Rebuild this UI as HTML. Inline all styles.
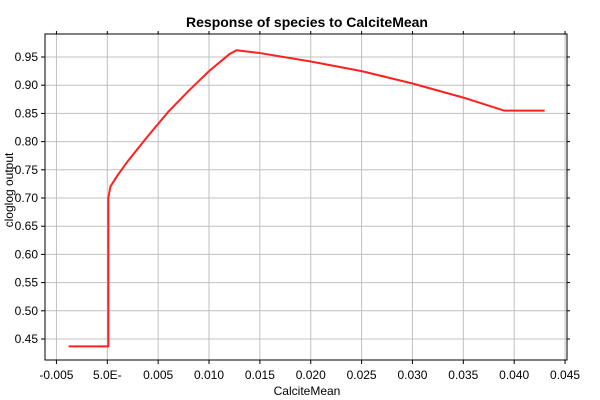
<!DOCTYPE html>
<html><head><meta charset="utf-8"><style>body{margin:0;background:#fff}svg{display:block;font-family:"Liberation Sans",sans-serif}</style></head>
<body>
<svg id="chart" width="600" height="400" xmlns="http://www.w3.org/2000/svg">
<rect width="600" height="400" fill="#fff"/>
<text x="307" y="27" text-anchor="middle" font-size="14" font-weight="bold">Response of species to CalciteMean</text>
<text x="307" y="395" text-anchor="middle" font-size="12">CalciteMean</text>
<text transform="translate(13,190) rotate(-90)" text-anchor="middle" font-size="12">cloglog output</text>
<g id="grid"></g><g id="axes"></g><g id="series"></g>
</svg>
<script>
const xTicks=[-0.005,0,0.005,0.010,0.015,0.020,0.025,0.030,0.035,0.040,0.045];
const xTickLabels=["-0.005","5.0E-","0.005","0.010","0.015","0.020","0.025","0.030","0.035","0.040","0.045"];
const yTicks=[0.45,0.50,0.55,0.60,0.65,0.70,0.75,0.80,0.85,0.90,0.95];
const yTickLabels=["0.45","0.50","0.55","0.60","0.65","0.70","0.75","0.80","0.85","0.90","0.95"];
const xs=[-0.0038,0.0001,0.0001,0.0003,0.001,0.002,0.004,0.006,0.008,0.010,0.012,0.0127,0.015,0.020,0.025,0.030,0.035,0.039,0.043];
const ys=[0.437,0.437,0.70,0.72,0.74,0.765,0.81,0.853,0.89,0.925,0.955,0.962,0.957,0.942,0.925,0.903,0.878,0.855,0.855];
const L=45,R=567,T=34,B=360;
const X=v=>107.3+(v/0.005)*50.86;
const Y=v=>339-((v-0.45)/0.05)*28.2;
const NS="http://www.w3.org/2000/svg";
function mk(p,t,a){const e=document.createElementNS(NS,t);for(const k in a)e.setAttribute(k,a[k]);p.appendChild(e);return e;}
const g=document.getElementById('grid'),ax=document.getElementById('axes'),s=document.getElementById('series');
xTicks.forEach((v,i)=>{const x=X(v);
 const l=mk(g,'line',{x1:x,x2:x,y1:T,y2:B,stroke:'#c0c0c0'});
 
 
 mk(ax,'line',{x1:x,x2:x,y1:B,y2:B+4,stroke:'#000'});
 mk(ax,'line',{x1:x,x2:x,y1:T,y2:T-3,stroke:'#000'});
 const t=mk(ax,'text',{x:x,y:B+19,'text-anchor':'middle','font-size':'12'});t.textContent=xTickLabels[i];
 
 });
yTicks.forEach((v,i)=>{const y=Y(v);
 const l=mk(g,'line',{x1:L,x2:R,y1:y,y2:y,stroke:'#c0c0c0'});
 
 
 mk(ax,'line',{x1:L-4,x2:L,y1:y,y2:y,stroke:'#000'});
 mk(ax,'line',{x1:R,x2:R+3,y1:y,y2:y,stroke:'#000'});
 const t=mk(ax,'text',{x:L-7,y:y+4,'text-anchor':'end','font-size':'12'});t.textContent=yTickLabels[i];
 
 });
const fr=mk(ax,'rect',{x:L,y:T,width:R-L,height:B-T,fill:'none',stroke:'#000'});


const pl=mk(s,'polyline',{points:xs.map((v,i)=>X(v)+','+Y(ys[i])).join(' '),fill:'none',stroke:'#ff2020','stroke-width':'2','stroke-linejoin':'round'});


</script>
</body></html>
